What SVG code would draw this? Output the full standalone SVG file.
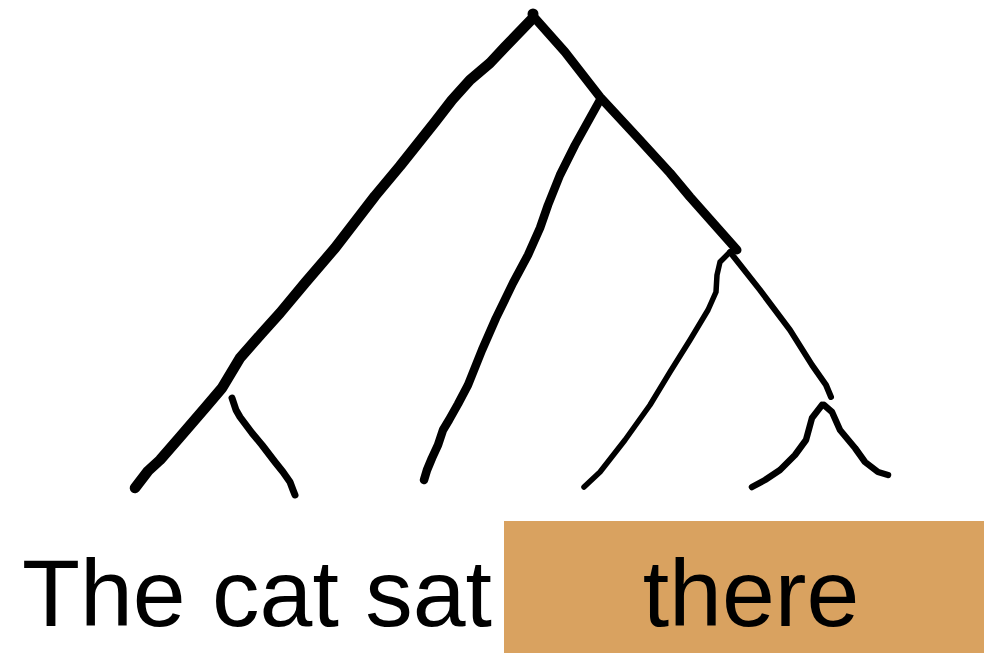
<svg xmlns="http://www.w3.org/2000/svg" width="984" height="653" viewBox="0 0 984 653">
<style>
.br{fill:none;stroke:#000;stroke-linecap:round;stroke-linejoin:round}
.lbl{font-family:"Liberation Sans",Arial,sans-serif;font-size:95px;fill:#000}
</style>
<rect width="984" height="653" fill="#fff"/>
<g id="connectors">
<circle cx="533" cy="14" r="5.5" fill="#000"/>
<polyline class="br" stroke-width="10.5" points="533,18 505,47 490,63 470,80 452,100 435,122 400,166 375,196 355,222 335,248 305,283 280,313 262,333 240,358 222,388 205,408 180,437 160,460 148,471 135,488"/>
<polyline class="br" stroke-width="9" points="533,16 565,52 600,97 638,138 670,173 690,197 737,250"/>
<polyline class="br" stroke-width="8.5" points="600,100 590,118 575,145 560,175 548,205 540,228 528,255 513,283 496,318 482,350 468,385 458,404 449,420 443,430 438,445 432,458 427,470 424,480"/>
<polyline class="br" stroke-width="5.5" points="730,252 720,262 717,275 716,292 708,310 690,340 670,372 650,405 625,440 600,472 584,487"/>
<polyline class="br" stroke-width="6" points="730,252 760,290 790,330 812,365 826,385 831,397"/>
<polyline class="br" stroke-width="6.5" points="822,405 812,418 806,440 795,455 780,470 765,480 752,487"/>
<polyline class="br" stroke-width="6.5" points="824,405 832,412 840,430 855,448 865,462 878,472 888,475"/>
<polyline class="br" stroke-width="7" points="232,398 236,410 240,417 252,433 262,445 275,462 283,472 290,482 293,490 295,495"/>
</g>
<g id="node-the-cat-sat">
<text class="lbl" x="22" y="626">The cat sat</text>
</g>
<g id="node-there">
<rect x="504" y="521" width="480" height="132" fill="#D9A260"/>
<text class="lbl" x="751" y="626" text-anchor="middle">there</text>
</g>
</svg>
